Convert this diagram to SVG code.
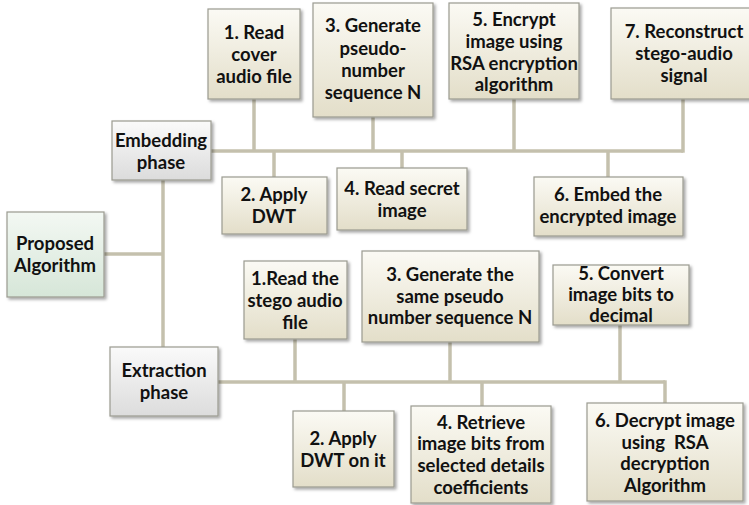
<svg xmlns="http://www.w3.org/2000/svg" width="749" height="505" viewBox="0 0 749 505">
<defs>
<linearGradient id="gTan" x1="0" y1="0" x2="0" y2="1"><stop offset="0" stop-color="#fbfaf4"/><stop offset="1" stop-color="#e3dec9"/></linearGradient>
<linearGradient id="gGray" x1="0" y1="0" x2="0" y2="1"><stop offset="0" stop-color="#fafafa"/><stop offset="1" stop-color="#dcdcdc"/></linearGradient>
<linearGradient id="gGreen" x1="0" y1="0" x2="0" y2="1"><stop offset="0" stop-color="#f3f8f3"/><stop offset="1" stop-color="#d6e6d8"/></linearGradient>
<filter id="sh" x="-10%" y="-10%" width="130%" height="130%"><feDropShadow dx="2" dy="2" stdDeviation="1.5" flood-color="#000" flood-opacity="0.35"/></filter>
</defs>
<style>
.b{stroke:#9a9a90;stroke-width:1.2;filter:url(#sh)}
.t{fill:url(#gTan)}
.g{fill:url(#gGray)}
.gr{fill:url(#gGreen)}
text{font-family:Lato,"Open Sans",sans-serif;font-weight:bold;font-size:18.5px;fill:#111;text-anchor:middle;white-space:pre}
.c line{stroke:#c4c0ad;stroke-width:3.5}
</style>
<g class="c" id="connectors">
<line x1="211" y1="151" x2="683" y2="151"/>
<line x1="254" y1="99" x2="254" y2="151"/>
<line x1="373" y1="117" x2="373" y2="151"/>
<line x1="514" y1="99" x2="514" y2="151"/>
<line x1="683" y1="99" x2="683" y2="152.7"/>
<line x1="274" y1="151" x2="274" y2="177"/>
<line x1="402" y1="151" x2="402" y2="168"/>
<line x1="608" y1="151" x2="608" y2="177"/>
<line x1="163" y1="180" x2="163" y2="347"/>
<line x1="104" y1="254" x2="163" y2="254"/>
<line x1="218" y1="382" x2="665" y2="382"/>
<line x1="295" y1="339" x2="295" y2="382"/>
<line x1="450" y1="342" x2="450" y2="382"/>
<line x1="620" y1="325" x2="620" y2="382"/>
<line x1="344" y1="382" x2="344" y2="411"/>
<line x1="482" y1="382" x2="482" y2="406"/>
<line x1="665" y1="380.3" x2="665" y2="403"/>
</g>
<g id="proposed"><rect class="b gr" x="7" y="212" width="97" height="85"/><text x="55" y="250">Proposed</text><text x="55" y="272">Algorithm</text></g>
<g id="embedding"><rect class="b g" x="112" y="121" width="99" height="59"/><text x="161" y="147">Embedding</text><text x="161" y="169">phase</text></g>
<g id="extraction"><rect class="b g" x="110" y="347" width="108" height="69"/><text x="164" y="377">Extraction</text><text x="164" y="399">phase</text></g>
<g id="e1"><rect class="b t" x="208" y="9" width="92" height="90"/><text x="254" y="39">1. Read</text><text x="254" y="61">cover</text><text x="254" y="83">audio file</text></g>
<g id="e3"><rect class="b t" x="313" y="3" width="120" height="114"/><text x="373" y="32">3. Generate</text><text x="373" y="55">pseudo-</text><text x="373" y="77">number</text><text x="373" y="99">sequence N</text></g>
<g id="e5"><rect class="b t" x="449" y="3" width="130" height="96"/><text x="514" y="26">5. Encrypt</text><text x="514" y="48">image using</text><text x="514" y="70">RSA encryption</text><text x="514" y="91">algorithm</text></g>
<g id="e7"><rect class="b t" x="611" y="8" width="140" height="91"/><text x="684" y="38">7. Reconstruct</text><text x="684" y="60">stego-audio</text><text x="684" y="82">signal</text></g>
<g id="e2"><rect class="b t" x="222" y="177" width="105" height="57"/><text x="274" y="201">2. Apply</text><text x="274" y="223">DWT</text></g>
<g id="e4"><rect class="b t" x="337" y="168" width="130" height="62"/><text x="402" y="195">4. Read secret</text><text x="402" y="217">image</text></g>
<g id="e6"><rect class="b t" x="534" y="177" width="149" height="59"/><text x="608" y="201">6. Embed the</text><text x="608" y="223">encrypted image</text></g>
<g id="x1"><rect class="b t" x="244" y="261" width="103" height="78"/><text x="295" y="285">1.Read the</text><text x="295" y="307">stego audio</text><text x="295" y="329">file</text></g>
<g id="x3"><rect class="b t" x="362" y="251" width="177" height="91"/><text x="450" y="281">3. Generate the</text><text x="450" y="303">same pseudo</text><text x="450" y="324">number sequence N</text></g>
<g id="x5"><rect class="b t" x="553" y="265" width="136" height="60"/><text x="621" y="280">5. Convert</text><text x="621" y="301">image bits to</text><text x="621" y="322">decimal</text></g>
<g id="x2"><rect class="b t" x="293" y="411" width="101" height="76"/><text x="343" y="445">2. Apply</text><text x="343" y="467">DWT on it</text></g>
<g id="x4"><rect class="b t" x="411" y="406" width="140" height="97"/><text x="481" y="429">4. Retrieve</text><text x="481" y="450">image bits from</text><text x="481" y="472">selected details</text><text x="481" y="494">coefficients</text></g>
<g id="x6"><rect class="b t" x="587" y="403" width="156" height="98"/><text x="665" y="427">6. Decrypt image</text><text x="665" y="449">using  RSA</text><text x="665" y="470">decryption</text><text x="665" y="492">Algorithm</text></g>
</svg>
